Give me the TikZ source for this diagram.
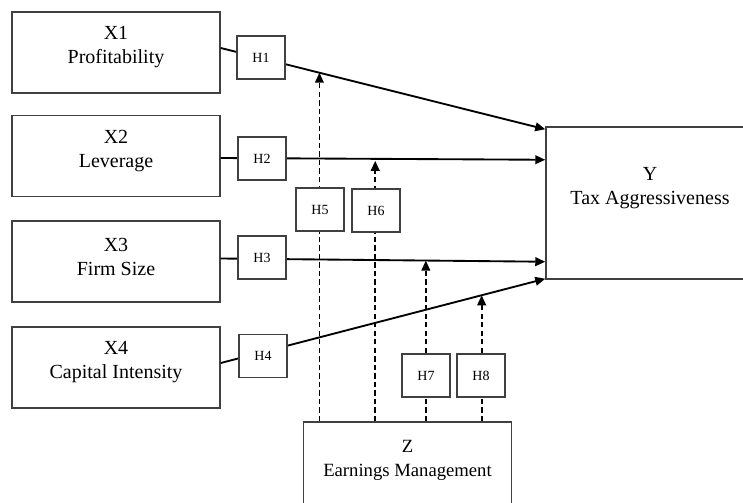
\documentclass[tikz,border=0pt]{standalone}
\usepackage{fontspec}
\setmainfont{Liberation Serif}
\usetikzlibrary{arrows.meta, positioning, calc}
\tikzset{
  varbox/.style={
    rectangle,
    draw=black!75,
    line width=1.1pt,
    fill=white,
    minimum width=156pt,
    minimum height=61pt,
    inner sep=0pt
  },
  vartext/.style={
    align=center,
    inner sep=0pt,
    font=\fontsize{15}{18}\selectfont
  },
  hbox/.style={
    rectangle,
    draw=black!75,
    line width=1.1pt,
    fill=white,
    minimum width=36pt,
    minimum height=32pt,
    font=\fontsize{10.5}{12}\selectfont
  },
  arrow/.style={
    line width=1.4pt,
    -{Triangle[length=7.5pt,width=6.5pt]}
  },
  modarrow/.style={
    line width=1.3pt,
    dash pattern=on 4pt off 2.4pt,
    -{Triangle[length=7.5pt,width=6.5pt]}
  }
}

\begin{document}
\begin{tikzpicture}[x=0.75pt, y=-0.75pt]
  \useasboundingbox (0,0) rectangle (743,503);

  % Variables
  \node (X1) [varbox] at (116,52.5) {};
  \node (X2) [varbox] at (116,156) {};
  \node (X3) [varbox] at (116,261.5) {};
  \node (X4) [varbox] at (116,367.5) {};
  \node (Y) [varbox, minimum height=114pt] at (650,203) {};
  \node (Z) [varbox, minimum height=67.5pt] at (407.5,467) {};

  \node (X1t) [vartext] at ($(X1.center)+(0,-5)$) {X1\\Profitability};
  \node (X2t) [vartext] at ($(X2.center)+(0,-5)$) {X2\\Leverage};
  \node (X3t) [vartext] at ($(X3.center)+(0,-5)$) {X3\\Firm Size};
  \node (X4t) [vartext] at ($(X4.center)+(0,-5)$) {X4\\Capital Intensity};
  \node (Yt) [vartext] at ($(Y.center)+(0,-15)$) {Y\\Tax Aggressiveness};
  \node (Zt) [vartext, font=\fontsize{14}{18}\selectfont] at ($(Z.center)+(0,-7)$) {Z\\Earnings Management};

  % Direct paths
  \coordinate (a1) at ($(X1.east)+(0,-4.5)$);
  \coordinate (b1) at ($(Y.north west)+(0,3)$);
  \coordinate (a2) at ($(X2.east)+(0,2)$);
  \coordinate (b2) at ($(Y.north west)+(0,33.5)$);
  \coordinate (a3) at ($(X3.east)+(0,-3)$);
  \coordinate (b3) at ($(Y.south west)+(0,-18)$);
  \coordinate (a4) at ($(X4.east)+(0,-4.5)$);
  \coordinate (b4) at ($(Y.south west)+(0,-1)$);

  \draw[arrow] (a1) -- (b1);
  \draw[arrow] (a2) -- (b2);
  \draw[arrow] (a3) -- (b3);
  \draw[arrow] (a4) -- (b4);

  % Moderation (dashed)
  \coordinate (m5) at ($(a1)!0.304!(b1)$);
  \coordinate (m6) at ($(a2)!0.476!(b2)+(0,2)$);
  \coordinate (m7) at ($(a3)!0.632!(b3)$);
  \coordinate (m8) at ($(a4)!0.804!(b4)$);

  \draw[modarrow] (m5 |- Z.north) -- (m5);
  \draw[modarrow] (m6 |- Z.north) -- (m6);
  \draw[modarrow] (m7 |- Z.north) -- (m7);
  \draw[modarrow] (m8 |- Z.north) -- (m8);

  % Hypotheses
  \node (H1) [hbox] at (261,57.5) {H1};
  \node (H2) [hbox] at (262,158.5) {H2};
  \node (H3) [hbox] at (262,257.5) {H3};
  \node (H4) [hbox] at (263,356) {H4};
  \node (H5) [hbox] at (320,209.5) {H5};
  \node (H6) [hbox] at (376,210.5) {H6};
  \node (H7) [hbox] at (426,375.5) {H7};
  \node (H8) [hbox] at (481,375.5) {H8};

\end{tikzpicture}
\end{document}
